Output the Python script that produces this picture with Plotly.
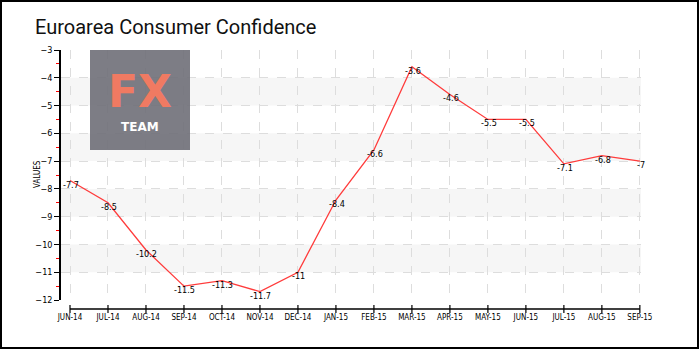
import plotly.graph_objects as go

# Monthly Euro area consumer confidence readings
months = ["JUN-14", "JUL-14", "AUG-14", "SEP-14", "OCT-14", "NOV-14", "DEC-14", "JAN-15",
          "FEB-15", "MAR-15", "APR-15", "MAY-15", "JUN-15", "JUL-15", "AUG-15", "SEP-15"]
values = [-7.7, -8.5, -10.2, -11.5, -11.3, -11.7, -11, -8.4,
          -6.6, -3.6, -4.6, -5.5, -5.5, -7.1, -6.8, -7]
y_ticks = [-12, -11, -10, -9, -8, -7, -6, -5, -4, -3]
band_pairs = [(-5, -4), (-7, -6), (-9, -8), (-11, -10)]

xs = list(range(len(months)))
label_font = dict(family="DejaVu Sans Condensed, DejaVu Sans", size=9, color="#000000")

fig = go.Figure()
fig.add_trace(go.Scatter(
    x=xs, y=values, mode="lines",
    line=dict(color="#ff3b3b", width=1.3),
    hoverinfo="skip", showlegend=False,
))

# Value labels beside each point
for x, v in zip(xs, values):
    fig.add_annotation(x=x, y=v, text=f"{v:g}", showarrow=False,
                       font=label_font, yshift=-4, xshift=1)

shapes = []
# Alternating light bands
for lo, hi in band_pairs:
    shapes.append(dict(type="rect", xref="paper", yref="y", x0=0, x1=1, y0=lo, y1=hi,
                       fillcolor="#f6f6f6", line=dict(width=0), layer="below"))

# Detached x axis line with crossing ticks
axis_y = -0.036
shapes.append(dict(type="line", xref="x", yref="paper", x0=xs[0], x1=xs[-1],
                   y0=axis_y, y1=axis_y, line=dict(color="#000000", width=1.5)))
for x in xs:
    shapes.append(dict(type="line", xref="x", yref="paper", x0=x, x1=x,
                       y0=axis_y - 0.016, y1=axis_y + 0.016,
                       line=dict(color="#000000", width=1.2)))

# Logo block
shapes.append(dict(type="rect", xref="paper", yref="paper",
                   x0=(90 - 61) / 580, x1=(190 - 61) / 580, y0=(300 - 150) / 250, y1=1,
                   fillcolor="#6f6f78", opacity=0.9, line=dict(width=0), layer="above"))

# Outer frame
shapes.append(dict(type="rect", xref="paper", yref="paper",
                   x0=(1 - 61) / 580, x1=(698 - 61) / 580,
                   y0=(300 - 348) / 250, y1=(300 - 1) / 250,
                   line=dict(color="#000000", width=2), fillcolor="rgba(0,0,0,0)"))

fig.add_annotation(xref="paper", yref="paper", x=(140 - 61) / 580, y=(300 - 91) / 250,
                   xanchor="center", yanchor="middle",
                   text="<b>FX</b>", showarrow=False,
                   font=dict(family="DejaVu Sans", size=44, color="#f07a62"))
fig.add_annotation(xref="paper", yref="paper", x=(140 - 61) / 580, y=(300 - 127) / 250,
                   xanchor="center", yanchor="middle",
                   text="<b>TEAM</b>", showarrow=False,
                   font=dict(family="DejaVu Sans", size=12, color="#ffffff"))

fig.add_annotation(xref="paper", yref="paper", x=(37 - 61) / 580, y=(300 - 174) / 250,
                   xanchor="center", yanchor="middle",
                   text="VALUES", textangle=-90, showarrow=False,
                   font=dict(family="DejaVu Sans Condensed, DejaVu Sans", size=8, color="#000000"))

fig.update_layout(
    width=700, height=350,
    margin=dict(l=61, r=59, t=50, b=50),
    paper_bgcolor="#ffffff", plot_bgcolor="#ffffff",
    title=dict(text="Euroarea Consumer Confidence", x=35 / 700, xanchor="left",
               y=1 - 27 / 350, yanchor="middle",
               font=dict(family="Roboto", size=20, color="#111111")),
    shapes=shapes,
    xaxis=dict(range=[-9 / 38, 15.03], tickmode="array", tickvals=xs, ticktext=months,
               showgrid=True, gridcolor="#dddddd", griddash="dash", gridwidth=1,
               zeroline=False, showline=False, ticks="", ticklabelstandoff=11,
               tickfont=dict(family="DejaVu Sans Condensed, DejaVu Sans", size=8,
                             color="#000000")),
    yaxis=dict(range=[-12, -3], tickmode="array", tickvals=y_ticks,
               showgrid=True, gridcolor="#dddddd", griddash="dash", gridwidth=1,
               zeroline=False, showline=True, linecolor="#000000", linewidth=1.5,
               ticks="outside", ticklen=5, tickcolor="#000000", tickwidth=1.2,
               minor=dict(tickvals=[v + 0.5 for v in y_ticks[:-1]], ticks="outside",
                          ticklen=3, tickcolor="#ff0000", tickwidth=1.2, showgrid=False),
               tickfont=dict(family="DejaVu Sans Condensed, DejaVu Sans", size=9,
                             color="#000000")),
)

fig.write_html("out.html")
